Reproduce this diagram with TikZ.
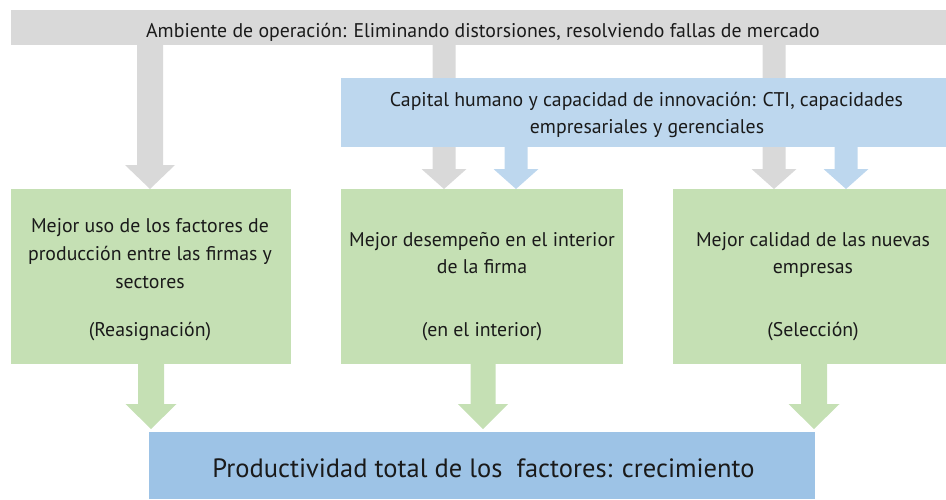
\documentclass[tikz,border=0pt]{standalone}
\usepackage{fontspec}
\setmainfont{PT Sans}
\usetikzlibrary{calc}
\definecolor{barGray}{HTML}{D9D9D9}
\definecolor{boxBlue}{HTML}{BDD7EE}
\definecolor{boxGreen}{HTML}{C5E0B4}
\definecolor{resBlue}{HTML}{9DC3E6}
\definecolor{txt}{HTML}{1A1A1A}
\newcommand\blockarrow[6]{% #1 style, #2 start, #3 tip, #4 half shaft, #5 half head, #6 head length
  \fill[#1] let \p1=(#2), \p2=(#3) in
    ({\x1-#4pt},\y1) -- ({\x1+#4pt},\y1) -- ({\x1+#4pt},{\y2+#6pt}) --
    ({\x1+#5pt},{\y2+#6pt}) -- (\x1,\y2) -- ({\x1-#5pt},{\y2+#6pt}) --
    ({\x1-#4pt},{\y2+#6pt}) -- cycle;}
\tikzset{
  panel/.style={draw=none, inner sep=0pt, outer sep=0pt, anchor=north west},
  line/.style={anchor=base, inner sep=0pt, text=txt, font=\fontsize{19.8}{22}\selectfont},
  bigline/.style={anchor=base, inner sep=0pt, text=txt, font=\fontsize{26.5}{30}\selectfont},
}
\begin{document}
\begin{tikzpicture}[x=1pt,y=-1pt]
\useasboundingbox (0,0) rectangle (946,499);
% top bar
\node[panel, fill=barGray, minimum width=935pt, minimum height=35pt] (topbar) at (11,10) {};
% green boxes
\node[panel, fill=boxGreen, minimum width=280pt, minimum height=175pt] (green1) at (11,189) {};
\node[panel, fill=boxGreen, minimum width=282pt, minimum height=175pt] (green2) at (341,189) {};
\node[panel, fill=boxGreen, minimum width=273pt, minimum height=175pt] (green3) at (673,189) {};
% bottom box
\node[panel, fill=resBlue, minimum width=666pt, minimum height=67pt] (result) at (149,432) {};
% x positions of arrows
\coordinate (ga1) at (150,0);
\coordinate (ga2) at (444,0);
\coordinate (ga3) at (774,0);
\coordinate (ba2) at (516,0);
\coordinate (ba3) at (846,0);
\coordinate (gr1) at (151,0);
\coordinate (gr2) at (483,0);
\coordinate (gr3) at (814,0);
% gray arrows
\blockarrow{barGray}{topbar.south -| ga1}{green1.north -| ga1}{13}{25}{24}
\blockarrow{barGray}{topbar.south -| ga2}{green2.north -| ga2}{11.5}{22.5}{20}
\blockarrow{barGray}{topbar.south -| ga3}{green3.north -| ga3}{11.5}{22.5}{20}
% blue box
\node[panel, fill=boxBlue, minimum width=605pt, minimum height=69pt] (capital) at (341,78) {};
% blue arrows
\blockarrow{boxBlue}{capital.south -| ba2}{green2.north -| ba2}{11.5}{22.5}{20}
\blockarrow{boxBlue}{capital.south -| ba3}{green3.north -| ba3}{11.5}{22.5}{20}
% green arrows
\blockarrow{boxGreen}{green1.south -| gr1}{[yshift=3pt]result.north -| gr1}{13}{25.5}{25}
\blockarrow{boxGreen}{green2.south -| gr2}{[yshift=3pt]result.north -| gr2}{12.5}{25}{25}
\blockarrow{boxGreen}{green3.south -| gr3}{[yshift=3pt]result.north -| gr3}{13}{25.5}{25}
% texts
\node[line] (t0) at (483,37) {Ambiente de operación: Eliminando distorsiones, resolviendo fallas de mercado};
\node[line] (c1) at (646.5,106) {Capital humano y capacidad de innovación: CTI, capacidades};
\node[line] (c2) at (647,133) {empresariales y gerenciales};
\node[line] (a1) at (150,232) {Mejor uso de los factores de};
\node[line] (a2) at (150,260) {producción entre las firmas y};
\node[line] (a3) at (150,288) {sectores};
\node[line] (a4) at (150,336) {(Reasignación)};
\node[line] (b1) at (482,246) {Mejor desempeño en el interior};
\node[line] (b2) at (482,273) {de la firma};
\node[line] (b4) at (482,336) {(en el interior)};
\node[line] (d1) at (813,246) {Mejor calidad de las nuevas};
\node[line] (d2) at (813,273) {empresas};
\node[line] (d4) at (813,336) {(Selección)};
\node[bigline] (r1) at (483.5,477) {Productividad total de los\ \ factores: crecimiento};
\end{tikzpicture}
\end{document}
